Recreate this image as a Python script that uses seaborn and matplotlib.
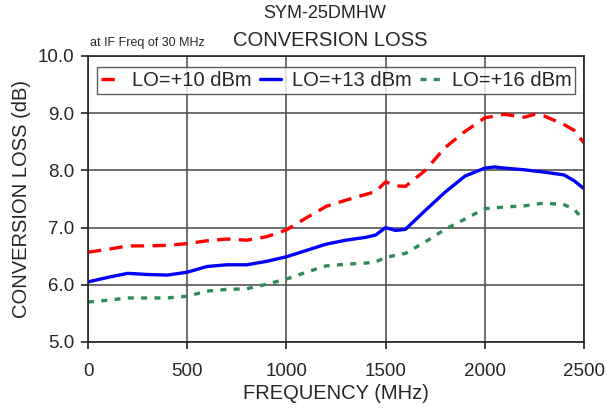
import matplotlib
matplotlib.use("Agg")
import matplotlib.pyplot as plt
import seaborn as sns
import pandas as pd
from matplotlib.lines import Line2D

freq_10 = [0, 100, 200, 300, 400, 500, 600, 700, 800, 900, 1000, 1100, 1200, 1300, 1400, 1450, 1500, 1550, 1600, 1700, 1800, 1900, 2000, 2100, 2200, 2250, 2300, 2400, 2450, 2500]
loss_10 = [6.57, 6.62, 6.68, 6.68, 6.69, 6.72, 6.77, 6.80, 6.78, 6.84, 6.96, 7.17, 7.37, 7.48, 7.58, 7.63, 7.80, 7.73, 7.72, 8.00, 8.40, 8.68, 8.92, 8.98, 8.93, 8.98, 8.95, 8.80, 8.70, 8.48]

freq_13 = [0, 100, 200, 300, 400, 500, 600, 700, 800, 900, 1000, 1100, 1200, 1300, 1400, 1450, 1500, 1550, 1600, 1700, 1800, 1900, 2000, 2050, 2100, 2200, 2300, 2400, 2450, 2500]
loss_13 = [6.05, 6.13, 6.20, 6.18, 6.17, 6.22, 6.32, 6.35, 6.35, 6.41, 6.49, 6.60, 6.71, 6.78, 6.83, 6.87, 7.00, 6.95, 6.97, 7.30, 7.62, 7.90, 8.04, 8.06, 8.04, 8.01, 7.97, 7.92, 7.82, 7.68]

freq_16 = [0, 100, 200, 300, 400, 500, 600, 700, 800, 900, 1000, 1100, 1200, 1300, 1400, 1450, 1500, 1600, 1700, 1800, 1900, 2000, 2100, 2200, 2300, 2400, 2450, 2500]
loss_16 = [5.70, 5.73, 5.77, 5.77, 5.77, 5.80, 5.89, 5.92, 5.93, 6.01, 6.10, 6.22, 6.33, 6.36, 6.38, 6.40, 6.48, 6.55, 6.75, 6.97, 7.15, 7.33, 7.36, 7.38, 7.43, 7.40, 7.32, 7.13]

labels = ["LO=+10 dBm", "LO=+13 dBm", "LO=+16 dBm"]
colors = ["#ff0000", "#0000ff", "#2e8b57"]

df = pd.concat([
    pd.DataFrame({"freq": freq_10, "loss": loss_10, "series": labels[0]}),
    pd.DataFrame({"freq": freq_13, "loss": loss_13, "series": labels[1]}),
    pd.DataFrame({"freq": freq_16, "loss": loss_16, "series": labels[2]}),
])

sns.set_style("white")
plt.rcParams["font.family"] = ["Liberation Sans", "DejaVu Sans"]

fig = plt.figure(figsize=(6.07, 4.09), dpi=100)
ax = fig.add_axes([88/607, 1-342/409, (584-88)/607, (342-56)/409])

sns.lineplot(data=df, x="freq", y="loss", hue="series", palette=colors, ax=ax,
             linewidth=2.4, legend=False, sort=True)
styles = [(0, (4, 2.5)), "-", (0, (1.8, 2.2))]
for line, ls in zip(ax.get_lines(), styles):
    line.set_linestyle(ls)
    line.set_solid_capstyle("butt")
    line.set_dash_capstyle("butt")

ax.set_xlim(0, 2500)
ax.set_ylim(5.0, 10.0)
ax.set_xticks([0, 500, 1000, 1500, 2000, 2500])
ax.set_yticks([5, 6, 7, 8, 9, 10])
ax.set_yticklabels(["5.0", "6.0", "7.0", "8.0", "9.0", "10.0"])
ax.grid(True, color="#555555", linewidth=1.2)
ax.set_axisbelow(True)
for s in ax.spines.values():
    s.set_color("#222222")
    s.set_linewidth(1.2)
ax.tick_params(axis="both", direction="out", length=5, width=1.2, color="#222222",
               labelsize=13.5, left=True, bottom=True)
ax.tick_params(axis="x", pad=10)
ax.tick_params(axis="y", pad=5)
ax.set_xlabel("FREQUENCY (MHz)", fontsize=14.5, labelpad=3)
ax.set_ylabel("CONVERSION LOSS (dB)", fontsize=14.5, labelpad=5)

handles = [Line2D([], [], color=c, linewidth=2.4, linestyle=ls) for c, ls in zip(colors, styles)]
leg = ax.legend(handles, labels, loc="upper center", bbox_to_anchor=(0.5, 0.96), ncol=3,
                fontsize=14.5, frameon=True, fancybox=False, edgecolor="#333333",
                handlelength=1.0, handletextpad=0.55, columnspacing=0.45,
                borderpad=0.2, borderaxespad=0.0)
leg.get_frame().set_linewidth(1.0)

fig.text(325/607, 1-13/409, "SYM-25DMHW", ha="center", va="center", fontsize=13)
fig.text(330/607, 1-40/409, "CONVERSION LOSS", ha="center", va="center", fontsize=14.5)
fig.text(90/607, 1-43/409, "at IF Freq of 30 MHz", ha="left", va="center", fontsize=9)

fig.savefig("out.png", dpi=100)
